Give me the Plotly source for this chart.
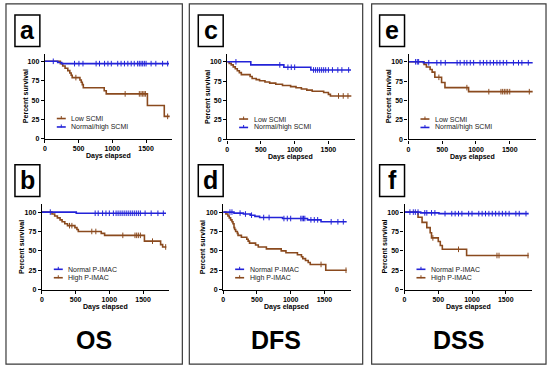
import plotly.graph_objects as go

W, H = 550, 371

# ---------------- data (days, percent survival) ----------------
# Panel a: OS by SCMI
a_low_t = [0, 230, 265, 300, 340, 370, 390, 405, 520, 540, 555, 570, 880, 910, 1520, 1770]
a_low_s = [100, 97, 94, 91, 88, 85, 82, 79, 76, 73, 70, 66, 62, 58, 43, 29]
a_low_end = 1850
a_low_cens = [460, 1190, 1400, 1425, 1450, 1470, 1490, 1820]
a_norm_t = [0, 190, 250]
a_norm_s = [100, 98.5, 97]
a_norm_end = 1840
a_norm_cens = [125, 440, 505, 565, 760, 810, 885, 935, 985, 1080, 1130, 1180, 1230, 1280,
               1325, 1375, 1400, 1425, 1450, 1475, 1500, 1575, 1645, 1745, 1820]

# Panel b: OS by P-IMAC
b_norm_t = [0, 510]
b_norm_s = [100, 98.5]
b_norm_end = 1840
b_norm_cens = [125, 790, 835, 900, 950, 1000, 1060, 1100, 1130, 1160, 1190, 1220, 1250, 1280,
               1310, 1340, 1370, 1400, 1430, 1460, 1530, 1620, 1720, 1800]
b_high_t = [0, 150, 190, 230, 270, 300, 340, 380, 490, 520, 540, 880, 930, 1520, 1760, 1790]
b_high_s = [100, 97.5, 95, 92.5, 90, 87.5, 85, 82.5, 80, 77.5, 75, 72.5, 70, 62.5, 58, 55]
b_high_end = 1845
b_high_cens = [410, 445, 740, 800, 1200, 1380, 1405, 1430, 1460, 1640, 1835]

# Panel c: DFS by SCMI
c_low_t = [0, 30, 60, 90, 120, 150, 180, 210, 340, 370, 430, 480, 560, 630, 720, 820, 940,
           1020, 1100, 1180, 1260, 1430, 1500, 1530]
c_low_s = [100, 98, 96, 93.5, 91, 88.5, 86, 83.5, 81, 78.5, 77, 75.5, 74, 72.5, 71, 69.5, 68,
           66.5, 65, 63.5, 62, 60.5, 58, 56]
c_low_end = 1840
c_low_cens = [1650, 1720, 1790]
c_norm_t = [0, 350, 840, 1240]
c_norm_s = [100, 96, 93, 89.5]
c_norm_end = 1835
c_norm_cens = [130, 780, 900, 950, 1000, 1280, 1310, 1340, 1370, 1400, 1430, 1460, 1500,
               1560, 1640, 1700, 1800]

# Panel d: DFS by P-IMAC
d_norm_t = [0, 160, 300, 400, 470, 540, 880, 1250, 1450]
d_norm_s = [100, 98.7, 97.5, 96, 94.5, 93, 91.7, 90, 87.5]
d_norm_end = 1830
d_norm_cens = [100, 130, 250, 330, 420, 600, 680, 900, 950, 1000, 1150, 1170, 1190, 1210,
               1300, 1350, 1400, 1600, 1700, 1780]
d_high_t = [0, 40, 70, 90, 110, 130, 145, 160, 170, 185, 210, 220, 270, 350, 370, 390, 480,
            520, 640, 860, 930, 1100, 1160, 1180, 1220, 1260, 1290, 1520]
d_high_s = [100, 97.5, 95, 92.5, 90, 87.5, 85, 80, 77.5, 75, 72.5, 70, 67.5, 65, 62.5, 60,
            57.5, 55, 52.5, 50, 47.5, 45, 42.5, 40, 37.5, 35, 32.5, 25]
d_high_end = 1830
d_high_cens = [1450, 1820]

# Panel e: DSS by SCMI
e_low_t = [0, 230, 265, 320, 350, 390, 490, 540, 890]
e_low_s = [100, 96.7, 93.3, 90, 86.7, 80, 73.3, 66.7, 61.5]
e_low_end = 1840
e_low_cens = [450, 865, 1190, 1370, 1395, 1420, 1445, 1470, 1500, 1790]
e_norm_t = [0, 220]
e_norm_s = [100, 98.8]
e_norm_end = 1840
e_norm_cens = [105, 130, 150, 300, 420, 480, 545, 720, 765, 825, 865, 915, 965, 1060, 1110,
               1160, 1210, 1260, 1310, 1355, 1405, 1455, 1555, 1630, 1680, 1775]

# Panel f: DSS by P-IMAC
f_norm_t = [0, 240, 510]
f_norm_s = [100, 99, 98]
f_norm_end = 1840
f_norm_cens = [80, 130, 160, 200, 300, 330, 400, 450, 600, 700, 750, 800, 850, 950, 1000,
               1100, 1150, 1200, 1250, 1300, 1350, 1400, 1450, 1500, 1550, 1650, 1700, 1800]
f_high_t = [0, 200, 260, 330, 380, 400, 500, 530, 560, 920]
f_high_s = [100, 93.3, 86.7, 80, 73.3, 66.7, 62, 57, 52, 44]
f_high_end = 1840
f_high_cens = [420, 800, 1370, 1400, 1830]

x_ticks = [0, 500, 1000, 1500]
y_ticks = [0, 25, 50, 75, 100]
x_range = [0, 1890]
y_range = [0, 110]

panel_letters = ["a", "b", "c", "d", "e", "f"]
column_titles = ["OS", "DFS", "DSS"]
scmi_labels = ["Low SCMI", "Normal/high SCMI"]
pimac_labels = ["Normal P-IMAC", "High P-IMAC"]
x_title = "Days elapsed"
y_title = "Percent survival"

BROWN = "#8A4A1E"
BLUE = "#2323D8"
FONT = "Liberation Sans, Arial, sans-serif"

# ---------------- layout geometry (pixels) ----------------
origins = {"a": (43, 140), "b": (40, 292), "c": (226, 140.5),
           "d": (222, 292), "e": (408, 140.5), "f": (404, 292)}
PW, PH = 128, 86
letter_boxes = {"a": (13, 15), "b": (13, 166), "c": (197, 15),
                "d": (197, 166), "e": (379, 15), "f": (379, 166)}
LBW, LBH = 25, 32
col_boxes = [(4, 181), (188, 362), (371, 546)]
col_centers = [92, 275, 458]


def px(xp):
    return xp / W


def py(yp):
    return 1 - yp / H


def level_at(t, times, surv):
    v = surv[0]
    for tt, ss in zip(times, surv):
        if tt <= t:
            v = ss
    return v


panels = {
    "a": [(a_low_t, a_low_s, a_low_end, a_low_cens, BROWN),
          (a_norm_t, a_norm_s, a_norm_end, a_norm_cens, BLUE)],
    "b": [(b_norm_t, b_norm_s, b_norm_end, b_norm_cens, BLUE),
          (b_high_t, b_high_s, b_high_end, b_high_cens, BROWN)],
    "c": [(c_low_t, c_low_s, c_low_end, c_low_cens, BROWN),
          (c_norm_t, c_norm_s, c_norm_end, c_norm_cens, BLUE)],
    "d": [(d_norm_t, d_norm_s, d_norm_end, d_norm_cens, BLUE),
          (d_high_t, d_high_s, d_high_end, d_high_cens, BROWN)],
    "e": [(e_low_t, e_low_s, e_low_end, e_low_cens, BROWN),
          (e_norm_t, e_norm_s, e_norm_end, e_norm_cens, BLUE)],
    "f": [(f_norm_t, f_norm_s, f_norm_end, f_norm_cens, BLUE),
          (f_high_t, f_high_s, f_high_end, f_high_cens, BROWN)],
}
legend_defs = {
    "a": (scmi_labels, [BROWN, BLUE]), "c": (scmi_labels, [BROWN, BLUE]),
    "e": (scmi_labels, [BROWN, BLUE]),
    "b": (pimac_labels, [BLUE, BROWN]), "d": (pimac_labels, [BLUE, BROWN]),
    "f": (pimac_labels, [BLUE, BROWN]),
}

fig = go.Figure()
shapes = []
annotations = []
layout_axes = {}


def ann(x, y, text, size, bold=False, color="black", xanchor="center", angle=0):
    font = dict(family=FONT, size=size, color=color)
    if bold:
        font["weight"] = "bold"
    return dict(x=x, y=y, xref="paper", yref="paper", text=text, showarrow=False,
                xanchor=xanchor, yanchor="middle", textangle=angle, font=font)


for i, key in enumerate(panel_letters):
    n = i + 1
    xa = "x" if n == 1 else f"x{n}"
    ya = "y" if n == 1 else f"y{n}"
    x0, y0 = origins[key]
    series = panels[key]
    order = sorted(series, key=lambda s: 0 if s[4] == BROWN else 1)
    for times, surv, end, cens, col in order:
        fig.add_trace(go.Scatter(
            x=list(times) + [end], y=list(surv) + [surv[-1]],
            mode="lines", line=dict(color=col, width=1.6, shape="hv"),
            xaxis=xa, yaxis=ya, showlegend=False, cliponaxis=False, hoverinfo="skip"))
        fig.add_trace(go.Scatter(
            x=cens, y=[level_at(t, times, surv) for t in cens],
            mode="markers",
            marker=dict(symbol="line-ns-open", size=4, color=col,
                        line=dict(color=col, width=1)),
            xaxis=xa, yaxis=ya, showlegend=False, cliponaxis=False, hoverinfo="skip"))

    axis_common = dict(showline=True, linecolor="black", linewidth=1.3,
                       ticks="outside", ticklen=3, tickwidth=1.2, tickcolor="black",
                       showgrid=False, zeroline=False,
                       tickfont=dict(family=FONT, size=7, color="black", weight="bold"))
    layout_axes["xaxis" if n == 1 else f"xaxis{n}"] = dict(
        domain=[px(x0), px(x0 + PW)], range=x_range, tickvals=x_ticks,
        anchor=ya, **axis_common)
    layout_axes["yaxis" if n == 1 else f"yaxis{n}"] = dict(
        domain=[py(y0), py(y0 - PH)], range=y_range, tickvals=y_ticks,
        anchor=xa, **axis_common)

    # axis titles
    annotations.append(ann(px(x0 + PW / 2), py(y0 + 17.5), x_title, 7, bold=True))
    annotations.append(ann(px(x0 - 20), py(y0 - 43), y_title, 7, bold=True, angle=-90))

    # legend (drawn manually inside the plot)
    labels, cols = legend_defs[key]
    for j, (lab, col) in enumerate(zip(labels, cols)):
        yy = y0 - 20.5 + j * 8.5
        shapes.append(dict(type="line", xref="paper", yref="paper",
                           x0=px(x0 + 12), x1=px(x0 + 21), y0=py(yy), y1=py(yy),
                           line=dict(color=col, width=1.6)))
        shapes.append(dict(type="line", xref="paper", yref="paper",
                           x0=px(x0 + 16.5), x1=px(x0 + 16.5), y0=py(yy - 2.5), y1=py(yy + 0.5),
                           line=dict(color=col, width=1)))
        annotations.append(ann(px(x0 + 24.5), py(yy), lab, 7, color="#222", xanchor="left"))

    # letter box
    lx, ly = letter_boxes[key]
    shapes.append(dict(type="rect", xref="paper", yref="paper",
                       x0=px(lx), x1=px(lx + LBW), y0=py(ly), y1=py(ly + LBH),
                       line=dict(color="black", width=1.5), fillcolor="white"))
    annotations.append(ann(px(lx + LBW / 2), py(ly + LBH / 2 - 0.5), key, 25, bold=True))

# column boxes and titles
for (bx0, bx1), cx, title in zip(col_boxes, col_centers, column_titles):
    shapes.append(dict(type="rect", xref="paper", yref="paper",
                       x0=px(bx0), x1=px(bx1), y0=py(4), y1=py(367),
                       line=dict(color="#3a3a3a", width=1.2)))
    annotations.append(ann(px(cx), py(343), title, 25, bold=True))

fig.update_layout(width=W, height=H, margin=dict(l=0, r=0, t=0, b=0),
                  paper_bgcolor="white", plot_bgcolor="white",
                  shapes=shapes, annotations=annotations, **layout_axes)

fig.write_html("out.html", config={"displayModeBar": False},
               post_script="document.body.style.margin='0';document.body.style.overflow='hidden';")
